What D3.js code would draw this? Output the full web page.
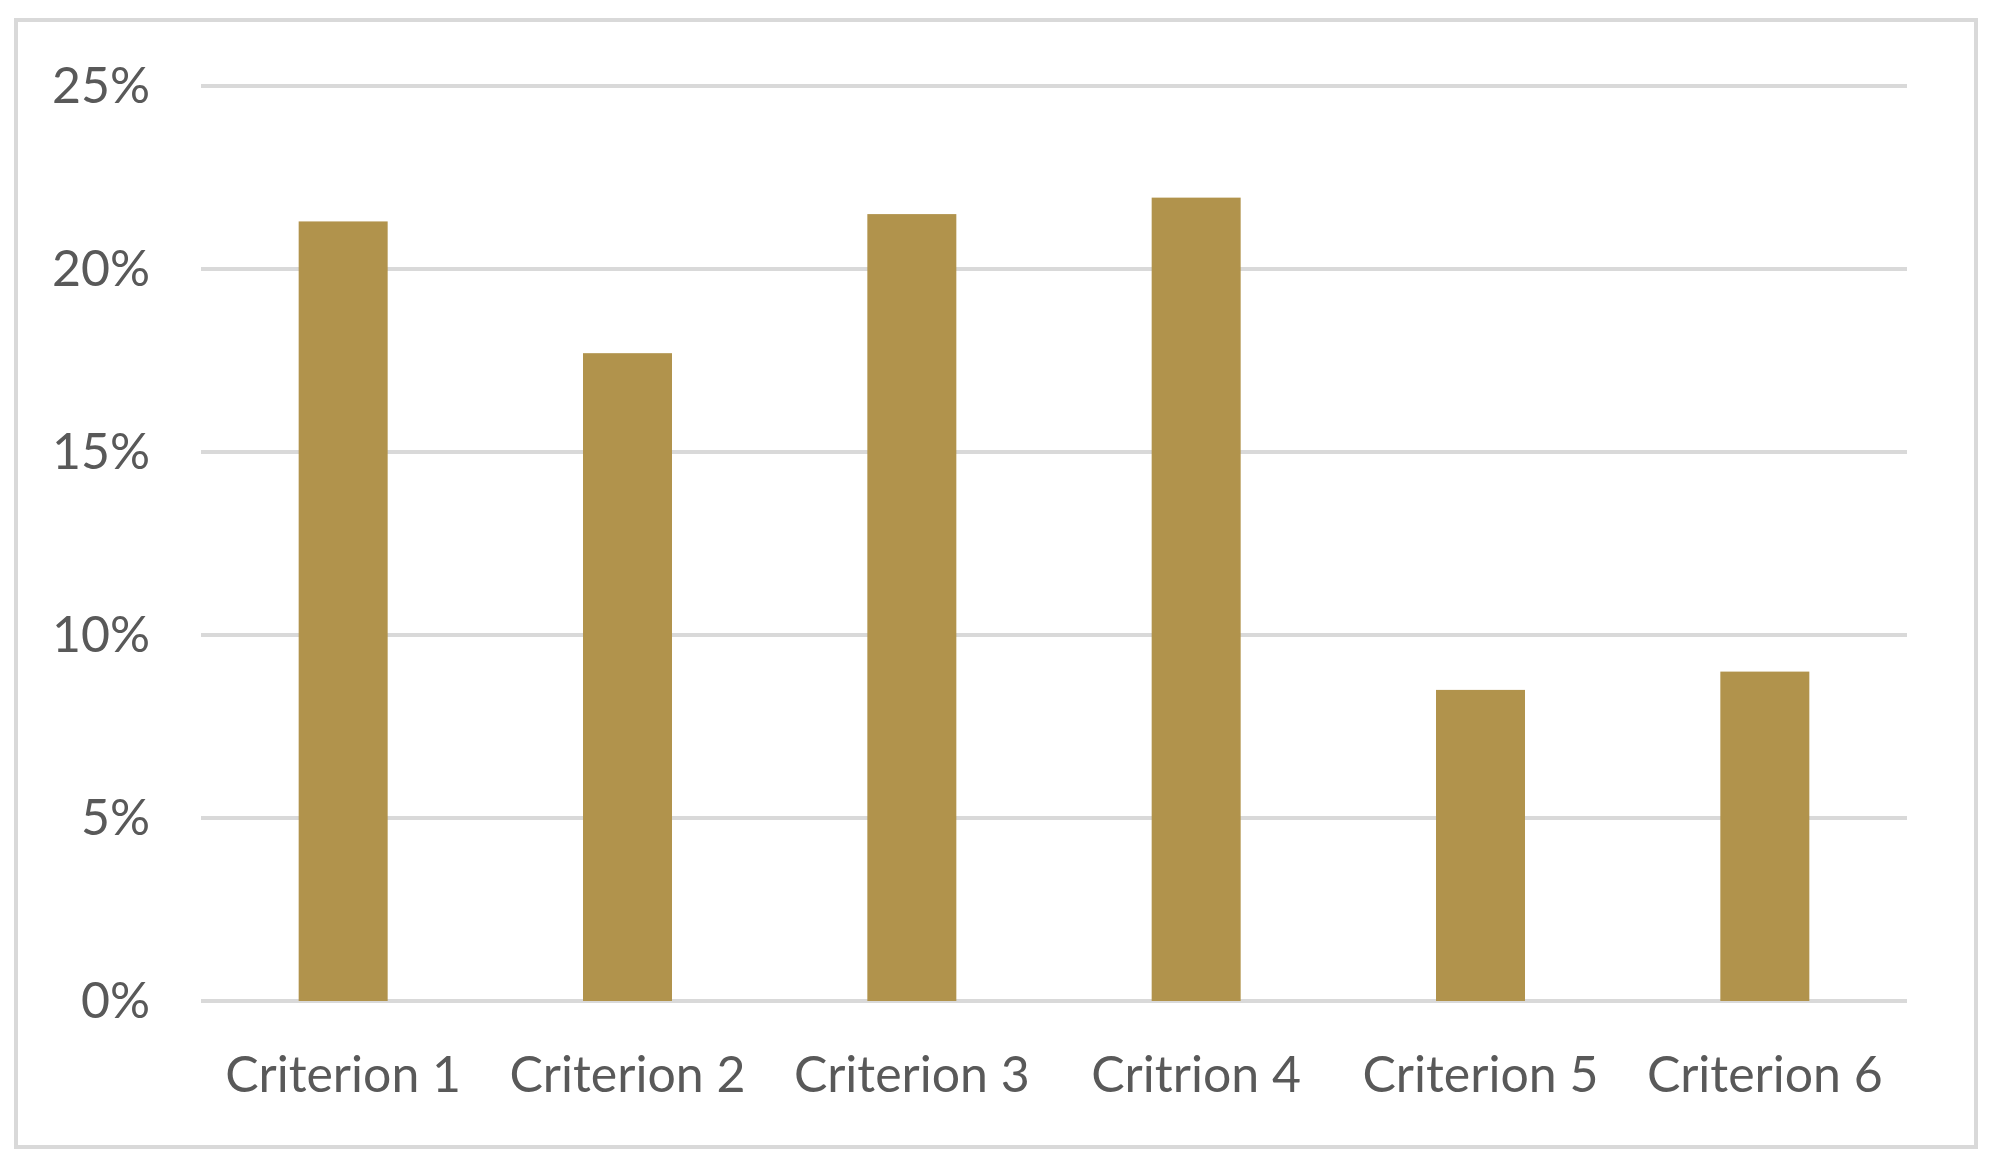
<!DOCTYPE html>
<html>
<head>
<meta charset="utf-8">
<script src="https://cdn.jsdelivr.net/npm/d3@7"></script>
<style>
  html, body { margin: 0; padding: 0; background: #fff; }
  svg { display: block; }
  text { font-family: Lato, "Open Sans", sans-serif; fill: #595959; }
</style>
</head>
<body>
<svg id="chart" width="1990" height="1168"></svg>
<script>
const categories = ["Criterion 1", "Criterion 2", "Criterion 3", "Critrion 4", "Criterion 5", "Criterion 6"];
const values = [0.213, 0.177, 0.215, 0.2195, 0.085, 0.090];
const tickValues = [0, 0.05, 0.10, 0.15, 0.20, 0.25];
const tickLabels = ["0%", "5%", "10%", "15%", "20%", "25%"];

const W = 1990, H = 1168;
const svg = d3.select("#chart");

// outer frame
svg.append("rect")
  .attr("x", 16).attr("y", 20)
  .attr("width", 1960).attr("height", 1127)
  .attr("fill", "#fff")
  .attr("stroke", "#d9d9d9")
  .attr("stroke-width", 4);

const plot = { left: 201, right: 1907, top: 86, bottom: 1001 };

const x = d3.scaleBand()
  .domain(categories)
  .range([plot.left, plot.right])
  .paddingInner(0.687)
  .paddingOuter(0.3435);

const y = d3.scaleLinear()
  .domain([0, 0.25])
  .range([plot.bottom, plot.top]);

// gridlines
svg.append("g")
  .selectAll("line")
  .data(tickValues)
  .join("line")
  .attr("x1", plot.left).attr("x2", plot.right)
  .attr("y1", d => y(d)).attr("y2", d => y(d))
  .attr("stroke", "#d9d9d9")
  .attr("stroke-width", 4);

// y-axis labels
const yAxis = d3.axisLeft(y)
  .tickValues(tickValues)
  .tickFormat((d, i) => tickLabels[i])
  .tickSize(0)
  .tickPadding(0);
const ya = svg.append("g")
  .attr("transform", `translate(150,0)`)
  .call(yAxis);
ya.select(".domain").remove();
ya.selectAll("text")
  .attr("font-size", 50)
  .attr("dy", "0.32em")
  .style("font-family", "Lato, 'Open Sans', sans-serif")
  .attr("fill", "#595959");

// bars
svg.append("g")
  .selectAll("rect")
  .data(values)
  .join("rect")
  .attr("x", (d, i) => x(categories[i]))
  .attr("width", x.bandwidth())
  .attr("y", d => y(d))
  .attr("height", d => y(0) - y(d))
  .attr("fill", "#b1934c");

// x-axis labels
const xAxis = d3.axisBottom(x).tickSize(0).tickPadding(0);
const xa = svg.append("g")
  .attr("transform", `translate(0,1092)`)
  .call(xAxis);
xa.select(".domain").remove();
xa.selectAll("text")
  .attr("font-size", 50)
  .attr("dy", "0")
  .attr("y", 0)
  .style("font-family", "Lato, 'Open Sans', sans-serif")
  .attr("fill", "#595959");
</script>
</body>
</html>
